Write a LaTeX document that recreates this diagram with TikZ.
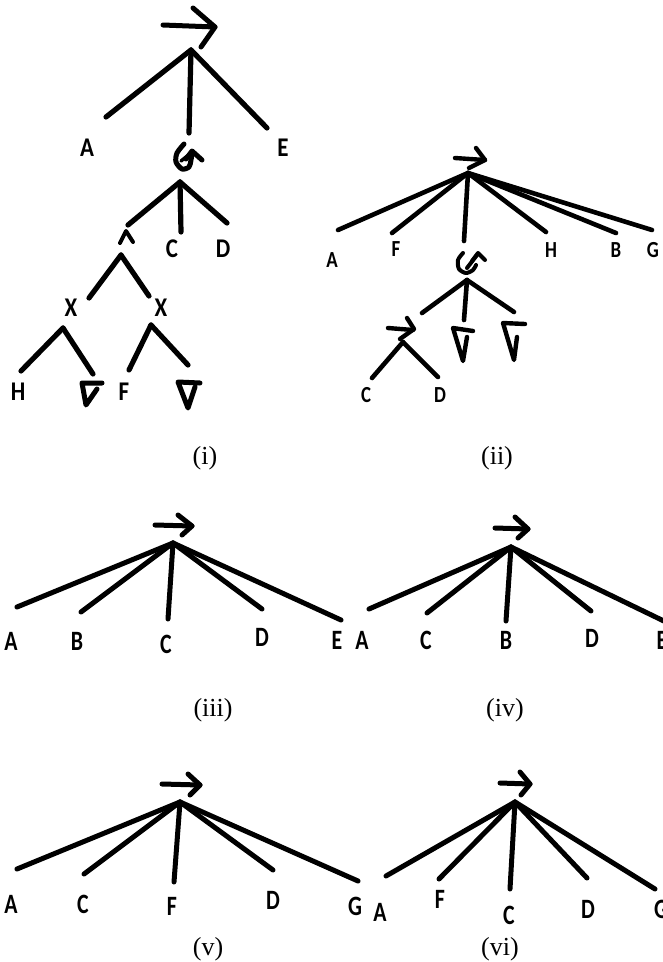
\documentclass[tikz,border=0pt]{standalone}
\usepackage{fontspec}
\usepackage{graphicx}
\newfontfamily\labfont{Carlito}
\newfontfamily\capfont{Liberation Serif}
\newcommand\lbA[1]{{\labfont\bfseries\fontsize{27}{28}\selectfont\scalebox{0.85}[1]{#1}}}
\newcommand\lbB[1]{{\labfont\bfseries\fontsize{23}{25}\selectfont\scalebox{0.82}[1]{#1}}}
\newcommand\lbC[1]{{\labfont\bfseries\fontsize{28}{30}\selectfont\scalebox{0.78}[1]{#1}}}
\tikzset{
  ln/.style={line width=5.2pt, line cap=round, line join=round},
  lnb/.style={line width=4.6pt, line cap=round, line join=round},
  lnc/.style={line width=5pt, line cap=round, line join=round},
  sym/.style={line width=4.4pt, line cap=round, line join=round},
  lb/.style={inner sep=0pt},
  cp/.style={inner sep=0pt, font=\capfont\fontsize{26}{28}\selectfont},
}
\begin{document}
\begin{tikzpicture}[x=1pt,y=-1pt]
\useasboundingbox (0,0) rectangle (663,962);

% ===================== (i) =====================
\draw[sym,line width=5pt] (163,25) -- (215,27);
\draw[sym,line width=5pt] (193,8) -- (215,27) -- (201,47);
\coordinate (r1) at (191,50);
\coordinate (r1a) at (106,117);
\coordinate (r1b) at (189,133);
\coordinate (r1c) at (267,128);
\draw[ln] (r1) -- (r1a); \draw[ln] (r1) -- (r1b); \draw[ln] (r1) -- (r1c);
\node[lb] (iA) at (87,148) {\lbA{A}};
\node[lb] (iE) at (283,148) {\lbA{E}};
% rotation symbol
\draw[sym,line width=5pt] plot[smooth] coordinates {(184,144) (177,153) (176,162) (182,169) (189,167) (191,160) (192,153)};
\draw[sym,line width=5pt] (186,159) -- (192,151) -- (202,160);
\draw[sym,line width=3.5pt] (181,161) -- (191,153);
\coordinate (g1) at (180,182);
\coordinate (g1a) at (128,225);
\coordinate (g1b) at (181,232);
\coordinate (g1c) at (227,223);
\draw[ln] (g1) -- (g1a); \draw[ln] (g1) -- (g1b); \draw[ln] (g1) -- (g1c);
\draw[sym,line width=4pt] (120,243) -- (126,231) -- (133,242);
\node[lb] (iC) at (172,249) {\lbA{C}};
\node[lb] (iD) at (223,249) {\lbA{D}};
\coordinate (w1) at (121,255);
\coordinate (w1a) at (89,298);
\coordinate (w1b) at (149,296);
\draw[ln] (w1) -- (w1a); \draw[ln] (w1) -- (w1b);
\node[lb] (iX1) at (71,308) {\lbA{X}};
\node[lb] (iX2) at (161,308) {\lbA{X}};
\coordinate (x1) at (63,328);
\coordinate (x1a) at (21,371);
\coordinate (x1b) at (93,374);
\draw[ln] (x1) -- (x1a); \draw[ln] (x1) -- (x1b);
\coordinate (x2) at (151,325);
\coordinate (x2a) at (129,370);
\coordinate (x2b) at (188,365);
\draw[ln] (x2) -- (x2a); \draw[ln] (x2) -- (x2b);
\node[lb] (iH) at (18,392) {\lbA{H}};
\node[lb] (iF) at (124,392) {\lbA{F}};
\draw[sym,line width=5pt] (102,383) -- (82,383) -- (86,405) -- (97,389);
\draw[sym,line width=5pt] (200,383) -- (178,382) -- (188,408) -- (195,387);
\node[cp] (capi) at (205,458) {(i)};

% ===================== (ii) =====================
\draw[sym] (455,158) -- (485,160);
\draw[sym] (476,148) -- (485,160) -- (469,168);
\coordinate (r2) at (468,173);
\coordinate (r2a) at (338,230);
\coordinate (r2b) at (392,233);
\coordinate (r2c) at (464,241);
\coordinate (r2d) at (546,232);
\coordinate (r2e) at (616,233);
\coordinate (r2f) at (652,230);
\foreach \e in {r2a,r2b,r2c,r2d,r2e,r2f} \draw[lnb] (r2) -- (\e);
\node[lb] (iiA) at (332,260) {\lbB{A}};
\node[lb] (iiF) at (396,249) {\lbB{F}};
\node[lb] (iiH) at (551,250) {\lbB{H}};
\node[lb] (iiB) at (616,250) {\lbB{B}};
\node[lb] (iiG) at (653,250) {\lbB{G}};
% rotation symbol
\draw[sym,line width=4pt] plot[smooth] coordinates {(463,253) (458,260) (459,269) (466,273) (473,270) (476,265)};
\draw[sym,line width=4pt] (467,268) -- (477,255);
\draw[sym,line width=4pt] (472,261) -- (478,253) -- (485,260);
\coordinate (g2) at (467,280);
\coordinate (g2a) at (422,313);
\coordinate (g2b) at (464,320);
\coordinate (g2c) at (514,312);
\draw[lnb] (g2) -- (g2a); \draw[lnb] (g2) -- (g2b); \draw[lnb] (g2) -- (g2c);
\draw[sym] (388,328) -- (413,330);
\draw[sym] (407,318) -- (414,329) -- (400,339);
\coordinate (s2) at (403,342);
\coordinate (s2a) at (372,378);
\coordinate (s2b) at (438,377);
\draw[lnb] (s2) -- (s2a); \draw[lnb] (s2) -- (s2b);
\node[lb] (iiC) at (366,395) {\lbB{C}};
\node[lb] (iiD) at (440,395) {\lbB{D}};
\draw[sym] (473,331) -- (453,328) -- (463,361) -- (467,337);
\draw[sym] (525,324) -- (503,323) -- (514,360) -- (517,337);
\node[cp] (capii) at (497,458) {(ii)};

% ===================== (iii) =====================
\draw[sym,line width=5pt] (155,525) -- (192,526);
\draw[sym,line width=5pt] (178,515) -- (192,526) -- (182,535);
\coordinate (r3) at (173,543);
\coordinate (r3a) at (17,607);
\coordinate (r3b) at (81,612);
\coordinate (r3c) at (168,619);
\coordinate (r3d) at (262,609);
\coordinate (r3e) at (341,620);
\foreach \e in {r3a,r3b,r3c,r3d,r3e} \draw[lnc] (r3) -- (\e);
\node[lb] (iiiA) at (11,641) {\lbC{A}};
\node[lb] (iiiB) at (77,641) {\lbC{B}};
\node[lb] (iiiC) at (166,644) {\lbC{C}};
\node[lb] (iiiD) at (262,637) {\lbC{D}};
\node[lb] (iiiE) at (337,640) {\lbC{E}};
\node[cp] (capiii) at (213,710) {(iii)};

% ===================== (iv) =====================
\draw[sym,line width=5pt] (495,528) -- (528,529);
\draw[sym,line width=5pt] (515,517) -- (528,529) -- (518,538);
\coordinate (r4) at (511,547);
\coordinate (r4a) at (369,609);
\coordinate (r4b) at (427,613);
\coordinate (r4c) at (506,621);
\coordinate (r4d) at (591,611);
\coordinate (r4e) at (668,623);
\foreach \e in {r4a,r4b,r4c,r4d,r4e} \draw[lnc] (r4) -- (\e);
\node[lb] (ivA) at (362,640) {\lbC{A}};
\node[lb] (ivC) at (426,640) {\lbC{C}};
\node[lb] (ivB) at (506,640) {\lbC{B}};
\node[lb] (ivD) at (592,638) {\lbC{D}};
\node[lb] (ivE) at (662,640) {\lbC{E}};
\node[cp] (capiv) at (505,710) {(iv)};

% ===================== (v) =====================
\draw[sym,line width=5pt] (162,784) -- (200,785);
\draw[sym,line width=5pt] (188,774) -- (200,785) -- (190,795);
\coordinate (r5) at (180,802);
\coordinate (r5a) at (17,869);
\coordinate (r5b) at (84,874);
\coordinate (r5c) at (174,882);
\coordinate (r5d) at (273,870);
\coordinate (r5e) at (358,881);
\foreach \e in {r5a,r5b,r5c,r5d,r5e} \draw[lnc] (r5) -- (\e);
\node[lb] (vA) at (11,904) {\lbC{A}};
\node[lb] (vC) at (83,904) {\lbC{C}};
\node[lb] (vF) at (172,906) {\lbC{F}};
\node[lb] (vD) at (273,900) {\lbC{D}};
\node[lb] (vG) at (355,906) {\lbC{G}};
\node[cp] (capv) at (208,949) {(v)};

% ===================== (vi) =====================
\draw[sym,line width=5pt] (500,783) -- (530,784);
\draw[sym,line width=5pt] (520,772) -- (530,784) -- (521,795);
\coordinate (r6) at (515,802);
\coordinate (r6a) at (386,876);
\coordinate (r6b) at (439,879);
\coordinate (r6c) at (510,889);
\coordinate (r6d) at (587,878);
\coordinate (r6e) at (655,889);
\foreach \e in {r6a,r6b,r6c,r6d,r6e} \draw[lnc] (r6) -- (\e);
\node[lb] (viA) at (380,912) {\lbC{A}};
\node[lb] (viF) at (440,899) {\lbC{F}};
\node[lb] (viC) at (509,915) {\lbC{C}};
\node[lb] (viD) at (588,909) {\lbC{D}};
\node[lb] (viG) at (661,909) {\lbC{G}};
\node[cp] (capvi) at (500,949) {(vi)};
\end{tikzpicture}
\end{document}
